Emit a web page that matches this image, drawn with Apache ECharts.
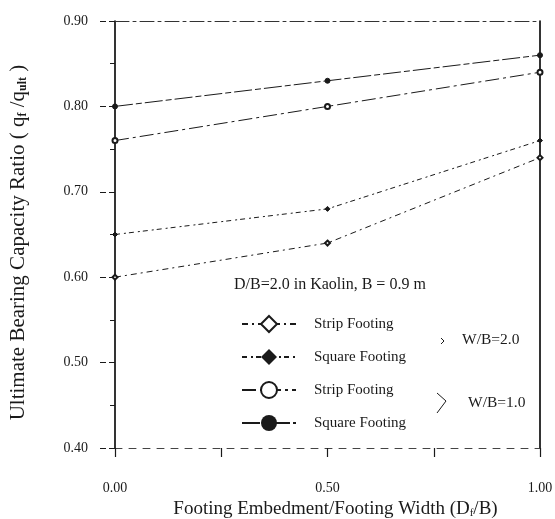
<!DOCTYPE html>
<html>
<head>
<meta charset="utf-8">
<script src="https://cdn.jsdelivr.net/npm/echarts@6/dist/echarts.min.js"></script>
<style>
  html, body { margin: 0; padding: 0; background: #fff; }
  #chart { width: 555px; height: 519px; }
</style>
</head>
<body>
<div id="chart"></div>
<script>
// ---- data ----
var xValues = [0.0, 0.5, 1.0];
var stripWB20 = [0.60, 0.64, 0.74];
var squareWB20 = [0.65, 0.68, 0.76];
var stripWB10 = [0.76, 0.80, 0.84];
var squareWB10 = [0.80, 0.83, 0.86];
var seriesNames = ['Strip Footing (W/B=2.0)', 'Square Footing (W/B=2.0)', 'Strip Footing (W/B=1.0)', 'Square Footing (W/B=1.0)'];
var yTicks = [0.40, 0.50, 0.60, 0.70, 0.80, 0.90];
var xTicks = [0.00, 0.50, 1.00];

function pairs(ys) { return xValues.map(function (x, i) { return [x, ys[i]]; }); }

var FONT = '"Liberation Serif", "DejaVu Serif", serif';
var INK = '#1a1a1a';

var chart = echarts.init(document.getElementById('chart'), null, { renderer: 'canvas' });

function mkSeries(name, data, symbol, dash) {
  return {
    name: name, type: 'line', data: pairs(data),
    symbol: symbol, symbolSize: 5, showSymbol: true,
    lineStyle: { color: INK, width: 1, type: dash },
    itemStyle: { color: INK, borderColor: INK },
    emphasis: { disabled: true },
    animation: false, z: 5
  };
}

chart.setOption({
  animation: false,
  backgroundColor: '#fff',
  grid: { left: 115, right: 15, top: 21, bottom: 71, containLabel: false, outerBoundsMode: 'none' },
  xAxis: [{
    type: 'value', min: 0, max: 1, interval: 0.5, position: 'bottom',
    axisLine: { show: true, onZero: false, lineStyle: { color: '#444', width: 1, type: [7, 7] } },
    axisTick: { show: true, inside: false, length: 9, lineStyle: { color: INK, width: 1.2 } },
    minorTick: { show: true, splitNumber: 2, length: 9, lineStyle: { color: INK, width: 1.2 } },
    splitLine: { show: false },
    axisLabel: { margin: 33, color: INK, fontFamily: FONT, fontSize: 14,
      formatter: function (v) { return v.toFixed(2); } },
    name: 'Footing Embedment/Footing Width (D{sub|f}/B)',
    nameLocation: 'middle', nameGap: 42,
    nameTextStyle: { color: INK, fontFamily: FONT, fontSize: 19, padding: [0, 0, 0, 16],
      rich: { sub: { fontSize: 11, padding: [7, 0, 0, 0], fontFamily: FONT, color: INK } } }
  }, {
    type: 'value', min: 0, max: 1, interval: 0.5, position: 'top',
    axisLine: { show: true, onZero: false, lineStyle: { color: '#333', width: 1, type: [14, 4, 3, 4] } },
    axisTick: { show: false }, axisLabel: { show: false }, splitLine: { show: false }
  }],
  yAxis: [{
    type: 'value', min: 0.4, max: 0.9, interval: 0.1, position: 'left',
    axisLine: { show: true, onZero: false, lineStyle: { color: '#000', width: 1.6 } },
    axisTick: { show: true, inside: false, length: 16, lineStyle: { color: INK, width: 1, type: [6, 3] } },
    minorTick: { show: true, splitNumber: 2, length: 5, lineStyle: { color: INK, width: 1 } },
    splitLine: { show: false },
    axisLabel: { margin: 27, color: INK, fontFamily: FONT, fontSize: 14,
      formatter: function (v) { return v.toFixed(2); } },
    name: 'Ultimate Bearing Capacity Ratio ( q{sub|f} /q{sub|ult} )',
    nameLocation: 'middle', nameGap: 86, nameRotate: 90,
    nameTextStyle: { color: INK, fontFamily: FONT, fontSize: 21, padding: [0, 0, 0, -16],
      rich: { sub: { fontSize: 12, fontWeight: 'bold', padding: [8, 0, 0, 0], fontFamily: FONT, color: INK } } }
  }, {
    type: 'value', min: 0.4, max: 0.9, interval: 0.1, position: 'right',
    axisLine: { show: true, onZero: false, lineStyle: { color: '#000', width: 1.6 } },
    axisTick: { show: false }, axisLabel: { show: false }, splitLine: { show: false }
  }],
  legend: {
    orient: 'vertical', left: 236, top: 310,
    itemWidth: 54, itemHeight: 20, itemGap: 16,
    data: seriesNames,
    formatter: function (n) { return n.split(' (')[0]; },
    textStyle: { color: INK, fontFamily: FONT, fontSize: 15, padding: [0, 0, 0, 13] },
    selectedMode: false
  },
  graphic: [
    { type: 'text', left: 234, top: 277,
      style: { text: 'D/B=2.0 in Kaolin, B = 0.9 m', fill: INK, font: '16px ' + FONT } },
    { type: 'text', left: 462, top: 332,
      style: { text: 'W/B=2.0', fill: INK, font: '15.5px ' + FONT } },
    { type: 'text', left: 468, top: 395,
      style: { text: 'W/B=1.0', fill: INK, font: '15.5px ' + FONT } },
    { type: 'polyline', shape: { points: [[441, 338], [444, 341], [441, 344]] },
      style: { stroke: INK, lineWidth: 1, fill: null } },
    { type: 'polyline', shape: { points: [[437, 393], [446, 401], [437, 413]] },
      style: { stroke: INK, lineWidth: 1, fill: null } }
  ],
  series: [
    mkSeries(seriesNames[0], stripWB20, 'emptyDiamond', [6, 4, 2, 4]),
    mkSeries(seriesNames[1], squareWB20, 'diamond', [5, 4, 2, 3]),
    mkSeries(seriesNames[2], stripWB10, 'emptyCircle', [14, 4, 3, 4]),
    mkSeries(seriesNames[3], squareWB10, 'circle', [18, 3, 6, 3])
  ]
});
</script>
</body>
</html>
